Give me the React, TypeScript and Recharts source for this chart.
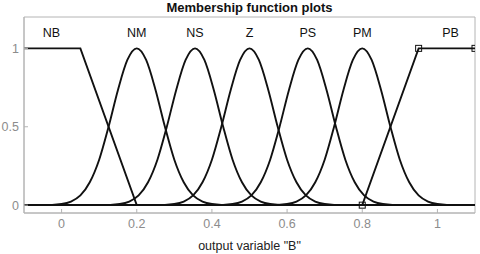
import { LineChart, Line, XAxis, YAxis, ReferenceDot, ReferenceArea } from "recharts";

// membership function names and where their labels sit
const mfNames = ["NB", "NM", "NS", "Z", "PS", "PM", "PB"];
const mfLabelX = [-0.027, 0.2, 0.355, 0.5, 0.655, 0.8, 1.035];
const labelY = 1.1;

// gaussian MFs: centers, plus the bell shape (offset from center -> degree)
const bellCenters = [0.2, 0.355, 0.5, 0.655, 0.8];
const bellOffsets = [-0.25, -0.2, -0.175, -0.15, -0.125, -0.1, -0.075, -0.05, -0.025, 0, 0.025, 0.05, 0.075, 0.1, 0.125, 0.15, 0.175, 0.2, 0.25];
const bellValues = [0, 0.008, 0.023, 0.062, 0.146, 0.29, 0.5, 0.735, 0.926, 1, 0.926, 0.735, 0.5, 0.29, 0.146, 0.062, 0.023, 0.008, 0];

// trapezoid MFs at the two ends
const nbX = [-0.1, 0.05, 0.2, 1.1];
const nbY = [1, 1, 0, 0];
const pbX = [-0.1, 0.8, 0.95, 1.1];
const pbY = [0, 0, 1, 1];

const xTicks = [0, 0.2, 0.4, 0.6, 0.8, 1];
const yTicks = [0, 0.5, 1];
const xMin = -0.1;
const xMax = 1.1;
const yMin = -0.05;
const yMax = 1.2;

const toPoints = (xs: number[], ys: number[]) => xs.map((x, i) => ({ x, y: ys[i] }));

const bellSeries = bellCenters.map((c) => [
	{ x: xMin, y: 0 },
	...bellOffsets.map((o, i) => ({ x: +(c + o).toFixed(4), y: bellValues[i] })),
	{ x: xMax, y: 0 },
]);

const nbData = toPoints(nbX, nbY);
const pbData = toPoints(pbX, pbY);

const font = "'Liberation Sans', Arial, Helvetica, sans-serif";
const axisColor = "#b4b4b4";
const tickColor = "#8c8c8c";

const SquareDot = (props: any) => {
	const { cx, cy, index } = props;
	if (index === 0 || cx == null) return <g key={`sq-${index}`} />;
	return (
		<rect key={`sq-${index}`} x={cx - 3} y={cy - 3} width={6} height={6} fill="none" stroke="#111" strokeWidth={1} />
	);
};

const App = () => {
	return (
		<div style={{ position: "absolute", left: 0, top: 0, width: 480, height: 254, background: "#fff", fontFamily: font }}>
			<div
				style={{
					position: "absolute",
					top: 0,
					left: 24,
					width: 451,
					textAlign: "center",
					fontWeight: "bold",
					fontSize: 13,
					lineHeight: "15px",
					color: "#111",
				}}
			>
				Membership function plots
			</div>
			<LineChart width={480} height={254} margin={{ top: 17, right: 5, bottom: 0, left: 0 }}>
				<XAxis
					dataKey="x"
					type="number"
					domain={[xMin, xMax]}
					ticks={xTicks}
					allowDataOverflow
					height={41}
					stroke={axisColor}
					tickSize={-4}
					tickMargin={10}
					tick={{ fill: tickColor, fontSize: 12.5, fontFamily: font }}
				/>
				<XAxis
					xAxisId="top"
					orientation="top"
					dataKey="x"
					type="number"
					domain={[xMin, xMax]}
					ticks={xTicks}
					allowDataOverflow
					height={0}
					stroke={axisColor}
					tickSize={-4}
					tickFormatter={() => ""}
				/>
				<YAxis
					type="number"
					domain={[yMin, yMax]}
					ticks={yTicks}
					allowDataOverflow
					width={24}
					stroke={axisColor}
					tickSize={-4}
					tickMargin={9}
					tick={{ fill: tickColor, fontSize: 12.5, fontFamily: font }}
				/>
				<YAxis
					yAxisId="right"
					orientation="right"
					type="number"
					domain={[yMin, yMax]}
					ticks={yTicks}
					allowDataOverflow
					width={0}
					stroke={axisColor}
					tickSize={-4}
					tickFormatter={() => ""}
				/>
				<ReferenceArea x1={xMin} x2={xMax} y1={yMin} y2={yMax} fill="none" stroke={axisColor} strokeWidth={1} />
				<Line data={nbData} dataKey="y" type="linear" stroke="#111" strokeWidth={1.9} dot={false} isAnimationActive={false} />
				{bellSeries.map((d, i) => (
					<Line
						key={mfNames[i + 1]}
						data={d}
						dataKey="y"
						type="monotone"
						stroke="#111"
						strokeWidth={1.9}
						dot={false}
						isAnimationActive={false}
					/>
				))}
				<Line data={pbData} dataKey="y" type="linear" stroke="#111" strokeWidth={1.9} dot={SquareDot} isAnimationActive={false} />
				{mfNames.map((name, i) => (
					<ReferenceDot
						key={name}
						x={mfLabelX[i]}
						y={labelY}
						r={0}
						fill="none"
						stroke="none"
						label={{ value: name, position: "center", fill: "#111", fontSize: 12.5, fontFamily: font }}
					/>
				))}
			</LineChart>
			<div
				style={{
					position: "absolute",
					top: 239,
					left: 24,
					width: 451,
					textAlign: "center",
					fontSize: 12.5,
					lineHeight: "14px",
					color: "#222",
				}}
			>
				output variable "B"
			</div>
		</div>
	);
};

export default App;
